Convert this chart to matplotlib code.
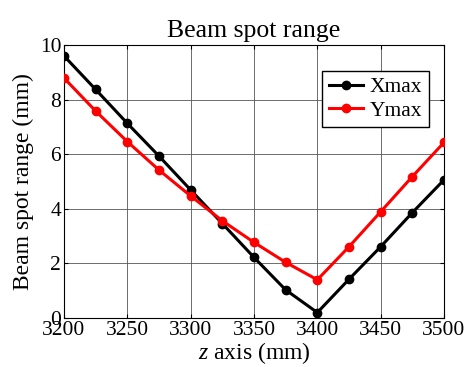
import matplotlib
matplotlib.use("Agg")
import matplotlib.pyplot as plt

z = [3200, 3225, 3250, 3275, 3300, 3325, 3350, 3375, 3400, 3425, 3450, 3475, 3500]
xmax = [9.6, 8.37, 7.13, 5.93, 4.69, 3.46, 2.22, 1.03, 0.2, 1.42, 2.61, 3.86, 5.06]
ymax = [8.79, 7.58, 6.46, 5.42, 4.47, 3.56, 2.77, 2.04, 1.4, 2.61, 3.89, 5.18, 6.43]
xticks = [3200, 3250, 3300, 3350, 3400, 3450, 3500]
yticks = [0, 2, 4, 6, 8, 10]

plt.rcParams['font.family'] = ['Liberation Serif', 'DejaVu Serif']
plt.rcParams['mathtext.fontset'] = 'custom'
plt.rcParams['mathtext.it'] = 'Liberation Serif:italic'
plt.rcParams['mathtext.rm'] = 'Liberation Serif'

fig = plt.figure(figsize=(4.69, 3.67), dpi=100)
ax = fig.add_axes([64/469, 1-318/367, (444-64)/469, (318-45)/367])

ax.plot(z, xmax, color='black', lw=2.2, marker='o', ms=6, mfc='black', mec='black', label='Xmax', zorder=3)
ax.plot(z, ymax, color='red', lw=2.2, marker='o', ms=6, mfc='red', mec='red', label='Ymax', zorder=3)

ax.set_xlim(3200, 3500)
ax.set_ylim(0, 10)
ax.set_xticks(xticks)
ax.set_yticks(yticks)
ax.tick_params(direction='in', top=True, right=True, labelsize=15.5, length=3, pad=2)
ax.grid(True, color='#555555', lw=0.6)
for s in ax.spines.values():
    s.set_linewidth(0.8)

ax.set_title('Beam spot range', fontsize=18.5, pad=6)
ax.set_xlabel(r'$z$ axis (mm)', fontsize=17, labelpad=0)
ax.set_ylabel('Beam spot range (mm)', fontsize=17, labelpad=4)

leg = ax.legend(loc='upper right', bbox_to_anchor=(0.96, 0.905), fontsize=15.5, fancybox=False,
                edgecolor='black', framealpha=1, handlelength=1.6, borderpad=0.3,
                labelspacing=0.15, handletextpad=0.3, borderaxespad=0)
leg.get_frame().set_linewidth(1.0)

fig.savefig('out.png', dpi=100)
